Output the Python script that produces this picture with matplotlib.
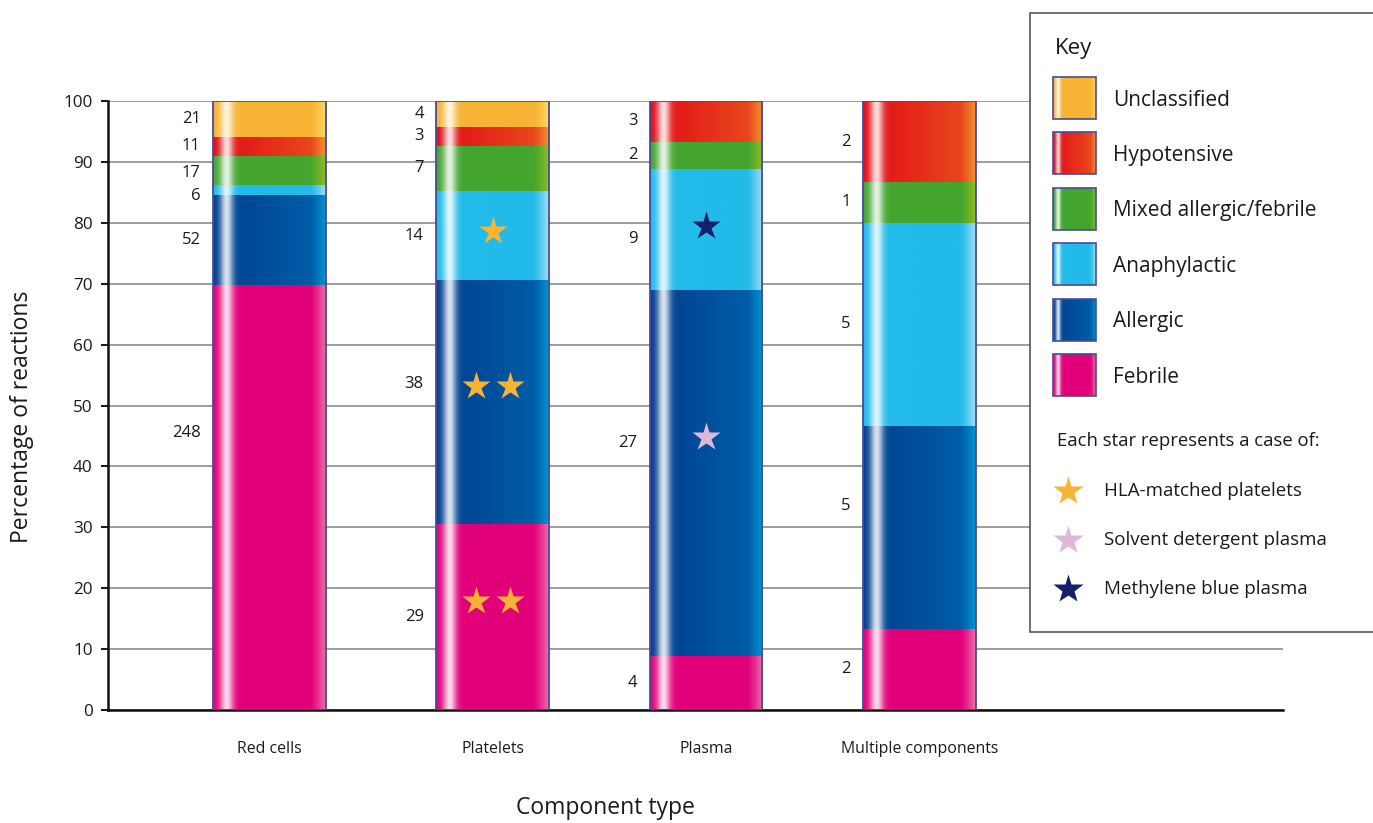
"""
Transfusion reactions by component type: 100% stacked bars with shaded
"cylinder" segments, case counts on the left of each segment and stars
marking special component cases.
"""

import numpy as np
import matplotlib
matplotlib.use("Agg")
import matplotlib.pyplot as plt
from matplotlib.colors import to_rgb
from matplotlib.patches import Rectangle

plt.rcParams["font.family"] = ["Open Sans", "DejaVu Sans"]

# ============================================================
#  Data (bottom -> top stacking order)
# ============================================================

components = ["Red cells", "Platelets", "Plasma", "Multiple components"]
reactions = ["Febrile", "Allergic", "Anaphylactic",
             "Mixed allergic/febrile", "Hypotensive", "Unclassified"]

febrile = [248, 29, 4, 2]
allergic = [52, 38, 27, 5]
anaphylactic = [6, 14, 9, 5]
mixed = [17, 7, 2, 1]
hypotensive = [11, 3, 3, 2]
unclassified = [21, 4, 0, 0]

# stars: number of cases per component, per reaction (same order as reactions)
stars_hla = [[0, 0, 0, 0, 0, 0],
             [2, 2, 1, 0, 0, 0],
             [0, 0, 0, 0, 0, 0],
             [0, 0, 0, 0, 0, 0]]
stars_sd = [[0, 0, 0, 0, 0, 0],
            [0, 0, 0, 0, 0, 0],
            [0, 1, 0, 0, 0, 0],
            [0, 0, 0, 0, 0, 0]]
stars_mb = [[0, 0, 0, 0, 0, 0],
            [0, 0, 0, 0, 0, 0],
            [0, 0, 1, 0, 0, 0],
            [0, 0, 0, 0, 0, 0]]

star_names = ["HLA-matched platelets", "Solvent detergent plasma",
              "Methylene blue plasma"]

# ============================================================
#  Styles
# ============================================================

# (left colour, right colour, right-edge glow)
SHADES = {
    "Febrile":                ("#E2007A", "#E2007A", "#EC72AC"),
    "Allergic":               ("#003E8E", "#0061AA", "#0096D5"),
    "Anaphylactic":           ("#22BBEA", "#22BBEA", "#A8DEF6"),
    "Mixed allergic/febrile": ("#42A530", "#45A62E", "#92BD22"),
    "Hypotensive":            ("#E30A17", "#E8501E", "#F39430"),
    "Unclassified":           ("#F7B334", "#F7B334", "#FEDA60"),
}
STAR_COLORS = ["#F7B334", "#DDB8DA", "#15206A"]
OUTLINE = "#4A4A98"

# bar centres (slightly uneven in the original)
BAR_X = np.array([0.0, 1.03, 2.015, 3.0])

# hand nudges (percentage points) where the original moved a label / star
LABEL_NUDGE = {(0, 0): 10.5, (0, 2): -1.0, (0, 3): -0.4, (1, 1): 3.0,
               (2, 1): 5.0, (2, 2): -1.5, (3, 1): 3.5}
STAR_NUDGE = {(1, 0): 2.7, (1, 1): 2.7, (1, 2): 0.8, (2, 1): 6.0, (2, 2): 0.6}


def _shade(name, n=240):
    """Horizontal gradient for one segment: bright streak on the left, glow on the right."""
    c_left, c_right, c_edge = (np.array(to_rgb(c)) for c in SHADES[name])
    t = np.linspace(0, 1, n)[:, None]
    base = c_left * (1 - t) + c_right * t
    edge = np.clip((t - 0.86) / 0.14, 0, 1) ** 1.3
    base = base * (1 - edge) + c_edge * edge
    hl = 0.85 * np.exp(-((t - 0.12) / 0.058) ** 2)
    col = base * (1 - hl) + hl
    return col[None, :, :]


# ============================================================
#  Figure
# ============================================================

W, H = 1373, 823
fig = plt.figure(figsize=(W / 100, H / 100), dpi=100)
fig.patch.set_facecolor("white")

ax = fig.add_axes([108 / W, 1 - 710 / H, (1283 - 108) / W, (710 - 101) / H])
ax.set_xlim(-0.745, 4.677)
ax.set_ylim(0, 100)

counts = np.array([febrile, allergic, anaphylactic, mixed, hypotensive, unclassified])
totals = counts.sum(axis=0)
pct = counts / totals * 100
bw = 0.52
star_dx = 0.157

for i, xc in enumerate(BAR_X):
    bottom = 0.0
    for j, name in enumerate(reactions):
        h = pct[j, i]
        if counts[j, i] == 0:
            continue
        top = bottom + h
        ax.imshow(_shade(name), extent=(xc - bw / 2, xc + bw / 2, bottom, top),
                  aspect="auto", interpolation="bilinear", zorder=2)
        mid = (bottom + top) / 2
        ax.annotate(str(counts[j, i]), (xc - bw / 2, mid + LABEL_NUDGE.get((i, j), 0)),
                    xytext=(-9, 0), textcoords="offset points", ha="right",
                    va="center", fontsize=12, color="#1a1a1a")
        # stars for special cases
        marks = []
        for s, grid in enumerate([stars_hla, stars_sd, stars_mb]):
            marks += [s] * grid[i][j]
        for k, s in enumerate(marks):
            sx = xc + (k - (len(marks) - 1) / 2) * star_dx
            ax.plot(sx, mid + STAR_NUDGE.get((i, j), 0), marker="*", ms=21,
                    color=STAR_COLORS[s], mec="none", zorder=4)
        bottom = top
    ax.add_patch(Rectangle((xc - bw / 2, 0), bw, 100, fill=False,
                           ec=OUTLINE, lw=1.3, zorder=3))

ax.set_yticks(range(0, 101, 10))
ax.yaxis.grid(True, color="#959595", lw=1.3)
ax.set_axisbelow(True)
ax.tick_params(axis="y", direction="out", length=5, width=1.5, labelsize=12.3,
               pad=6, colors="#1a1a1a")
ax.set_xticks(BAR_X, components)
ax.tick_params(axis="x", length=0, pad=22, labelsize=11.4, labelcolor="#1a1a1a")
for side in ["top", "right"]:
    ax.spines[side].set_visible(False)
for side in ["left", "bottom"]:
    ax.spines[side].set_linewidth(1.8)
    ax.spines[side].set_color("#111111")

fig.text(22 / W, 1 - 417 / H, "Percentage of reactions", rotation=90,
         ha="center", va="center", fontsize=16.5, color="#1a1a1a")
fig.text(605 / W, 1 - 808 / H, "Component type", ha="center", va="center",
         fontsize=16.5, color="#1a1a1a")

# ============================================================
#  Key (drawn in pixel space)
# ============================================================

ov = fig.add_axes([0, 0, 1, 1])
ov.set_xlim(0, W)
ov.set_ylim(H, 0)
ov.axis("off")

ov.add_patch(Rectangle((1030, 13), 400, 619, fc="white", ec="#555555", lw=1.2))
ov.text(1055, 48, "Key", fontsize=16, va="center", ha="left", color="#1a1a1a")

for k, name in enumerate(reversed(reactions)):
    yc = 98 + k * 55.4
    ov.imshow(_shade(name), extent=(1053, 1096, yc + 21, yc - 21),
              aspect="auto", interpolation="bilinear", zorder=2)
    ov.add_patch(Rectangle((1053, yc - 21), 43, 42, fill=False, ec=OUTLINE,
                           lw=1.2, zorder=3))
    ov.text(1113, yc + 2, name, fontsize=15, va="center", ha="left",
            color="#1a1a1a")

ov.text(1057, 441, "Each star represents a case of:", fontsize=13.3,
        va="center", ha="left", color="#1a1a1a")
for k, name in enumerate(star_names):
    yc = 491 + k * 49
    ov.plot(1068, yc, marker="*", ms=22, color=STAR_COLORS[k], mec="none")
    ov.text(1104, yc, name, fontsize=13.5, va="center", ha="left",
            color="#1a1a1a")

fig.savefig("out.png", dpi=100)
